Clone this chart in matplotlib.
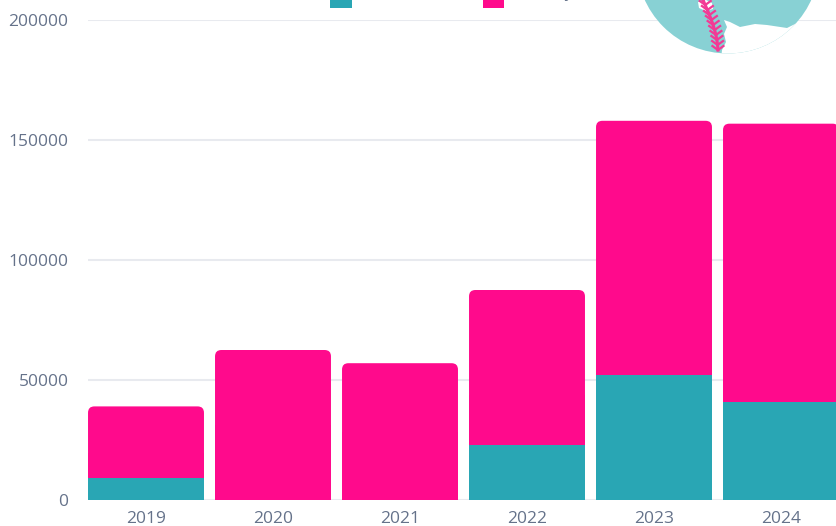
import matplotlib.pyplot as plt
from matplotlib.patches import FancyBboxPatch, Rectangle, Ellipse, Polygon
import numpy as np

years = ["2019", "2020", "2021", "2022", "2023", "2024"]
teal_values = [9200, 0, 0, 23000, 52000, 41000]
totals = [39000, 62500, 57000, 87500, 158000, 156800]
legend_labels = ["Recreational", "Industry"]

TEAL = "#29a6b4"
PINK = "#ff0a8c"
TEXT = "#65728a"
GRID = "#e8eaef"
W, H = 836, 526

plt.rcParams['font.family'] = ['Open Sans', 'DejaVu Sans']

fig = plt.figure(figsize=(W / 100, H / 100), dpi=100)
ax = fig.add_axes([88 / W, 26 / H, (W - 88) / W, 480 / H])

x = np.arange(len(years))
width = 0.913
# y units per x unit, so the corner radius is round on screen
aspect = (200000 / 480) * 127
rad = 0.05

for i in range(len(years)):
    # pink part with rounded top
    box = FancyBboxPatch((x[i] - width / 2, 0), width, totals[i],
                         boxstyle="round,pad=0,rounding_size=%f" % rad,
                         mutation_aspect=aspect, facecolor=PINK,
                         edgecolor="none", zorder=2)
    ax.add_patch(box)
    # square off the bottom corners
    ax.add_patch(Rectangle((x[i] - width / 2, 0), width, totals[i] * 0.5,
                           facecolor=PINK, edgecolor="none", zorder=2))
    if teal_values[i] > 0:
        ax.add_patch(Rectangle((x[i] - width / 2, 0), width, teal_values[i],
                               facecolor=TEAL, edgecolor="none", zorder=3))

ax.set_xlim((88 - 146) / 127, (W - 146) / 127)
ax.set_ylim(0, 200000)
ax.set_xticks(x)
ax.set_xticklabels(years)
ax.set_yticks([0, 50000, 100000, 150000, 200000])
ax.set_yticklabels(["0", "50000", "100000", "150000", "200000"])
ax.tick_params(axis='both', length=0, labelsize=12.5, labelcolor=TEXT)
ax.tick_params(axis='y', pad=14)
ax.tick_params(axis='x', pad=8)
ax.grid(axis='y', color=GRID, linewidth=1.5, zorder=0)
ax.set_axisbelow(True)
for s in ax.spines.values():
    s.set_visible(False)


def px(xp, yp):
    return xp / W, 1 - yp / H


# legend, mostly cut off at the top edge
fig.patches.append(Rectangle(px(330, 8), 22 / W, 18 / H, facecolor=TEAL,
                             transform=fig.transFigure, figure=fig))
fig.patches.append(Rectangle(px(483, 8), 21 / W, 18 / H, facecolor=PINK,
                             transform=fig.transFigure, figure=fig))
fig.text(*px(360, 1), legend_labels[0], fontsize=12, color=TEXT, va='bottom')
fig.text(*px(509, 1), legend_labels[1], fontsize=12, color=TEXT, va='bottom')

# logo in the top right corner
logo = Ellipse(px(728, -38), 183 / W, 183 / H, transform=fig.transFigure,
               facecolor="#88d1d4", edgecolor="none", figure=fig)
fig.patches.append(logo)

cut = [(724, 20), (730, 22), (740, 27), (755, 24), (767, 25), (787, 28),
       (797, 23), (836, 12), (836, 70), (720, 70), (722, 50), (726, 42),
       (724, 34), (727, 27)]
white = Polygon([px(a, b) for a, b in cut], closed=True, facecolor="white",
                edgecolor="none", transform=fig.transFigure, figure=fig)
white.set_clip_path(logo)
fig.patches.append(white)
blob = [(698, 2), (706, 0), (712, 3), (713, 9), (706, 11), (699, 8)]
white2 = Polygon([px(a, b) for a, b in blob], closed=True, facecolor="white",
                 edgecolor="none", transform=fig.transFigure, figure=fig)
fig.patches.append(white2)

# stitching
sy = np.arange(0, 54, 5.0)
sx = 703 + 15 * np.sin(sy / 53 * np.pi / 2)
fig.add_artist(plt.Line2D(sx / W, 1 - sy / H, color="#f23a95", lw=2.2,
                          transform=fig.transFigure))
for a, b in zip(sx, sy):
    for d in (-1, 1):
        fig.add_artist(plt.Line2D([a / W, (a + d * 5.5) / W],
                                  [1 - b / H, 1 - (b - 4) / H],
                                  color="#f23a95", lw=1.6,
                                  transform=fig.transFigure))

fig.savefig("out.png", dpi=100, facecolor="white")
